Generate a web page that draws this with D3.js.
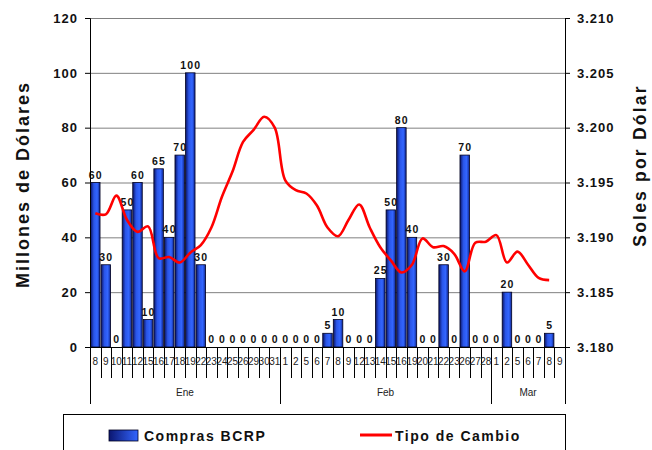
<!DOCTYPE html>
<html>
<head>
<meta charset="utf-8">
<script src="https://cdn.jsdelivr.net/npm/d3@7"></script>
<style>
  body { margin: 0; background: #fff; }
  svg { font-family: "Liberation Sans", Arial, sans-serif; }
  .narrow { font-family: "Liberation Sans Narrow", "Arial Narrow", "Liberation Sans", sans-serif; font-stretch: condensed; }
</style>
</head>
<body>
<div id="chart"></div>
<script>
// Data
const monthLabels = ["Ene", "Feb", "Mar"];
const monthDays = [
  [8, 9, 10, 11, 12, 15, 16, 17, 18, 19, 22, 23, 24, 25, 26, 29, 30, 31],
  [1, 2, 5, 6, 7, 8, 9, 12, 13, 14, 15, 16, 19, 20, 21, 22, 23, 26, 27, 28],
  [1, 2, 5, 6, 7, 8, 9]
];
const compras = [
  60, 30, 0, 50, 60, 10, 65, 40, 70, 100, 30, 0, 0, 0, 0, 0, 0, 0,
  0, 0, 0, 0, 5, 10, 0, 0, 0, 25, 50, 80, 40, 0, 0, 30, 0, 70, 0, 0,
  0, 20, 0, 0, 0, 5, null
];
const tipoCambio = [
  3.1922, 3.1921, 3.1938, 3.1916, 3.1905, 3.1910, 3.1881, 3.1882, 3.1877, 3.1886, 3.1893, 3.1909, 3.1937, 3.1960, 3.1987, 3.1998, 3.2010, 3.2000,
  3.1952, 3.1943, 3.1940, 3.1929, 3.1909, 3.1901, 3.1916, 3.1930, 3.1909, 3.1891, 3.1879, 3.1868, 3.1875, 3.1899, 3.1891, 3.1892, 3.1885, 3.1869, 3.1895, 3.1896,
  3.1902, 3.1877, 3.1887, 3.1875, 3.1863, 3.1861, null
];
const leftTicks = [0, 20, 40, 60, 80, 100, 120];
const rightTicks = [3.180, 3.185, 3.190, 3.195, 3.200, 3.205, 3.210];

// Flatten categories
const cats = [];
monthDays.forEach((days, m) => days.forEach(d => cats.push({ key: m + "-" + d, day: d, month: m })));
cats.forEach((c, i) => { c.compra = compras[i]; c.tc = tipoCambio[i]; });

const W = 652, H = 450;
const plotL = 90, plotR = 565, plotT = 18, plotB = 347;

const svg = d3.select("#chart").append("svg").attr("width", W).attr("height", H);

const defs = svg.append("defs");
const grad = defs.append("linearGradient").attr("id", "barGrad").attr("x1", "0%").attr("x2", "100%");
grad.append("stop").attr("offset", "0%").attr("stop-color", "#0a1466");
grad.append("stop").attr("offset", "35%").attr("stop-color", "#2a55e8");
grad.append("stop").attr("offset", "70%").attr("stop-color", "#3366ff");
grad.append("stop").attr("offset", "100%").attr("stop-color", "#0e2590");
const lgrad = defs.append("linearGradient").attr("id", "legGrad").attr("x1", "0%").attr("x2", "100%");
lgrad.append("stop").attr("offset", "0%").attr("stop-color", "#0b1670");
lgrad.append("stop").attr("offset", "100%").attr("stop-color", "#3366ff");

const x = d3.scaleBand().domain(cats.map(c => c.key)).range([plotL, plotR]).paddingInner(0.1).paddingOuter(0.05);
const yL = d3.scaleLinear().domain([0, 120]).range([plotB, plotT]);
const yR = d3.scaleLinear().domain([3.18, 3.21]).range([plotB, plotT]);
const step = x.step();

// Gridlines
svg.append("g").selectAll("line").data(leftTicks.filter(t => t > 0)).join("line")
  .attr("x1", plotL).attr("x2", plotR)
  .attr("y1", d => yL(d) + 0.5).attr("y2", d => yL(d) + 0.5)
  .attr("stroke", "#808080").attr("stroke-width", 1);

// Bars
svg.append("g").selectAll("rect").data(cats.filter(c => c.compra !== null && c.compra > 0)).join("rect")
  .attr("x", c => x(c.key)).attr("width", x.bandwidth())
  .attr("y", c => yL(c.compra)).attr("height", c => yL(0) - yL(c.compra))
  .attr("fill", "url(#barGrad)").attr("stroke", "#000020").attr("stroke-width", 0.8);

// Bar labels
svg.append("g").selectAll("text").data(cats.filter(c => c.compra !== null)).join("text")
  .attr("x", c => x(c.key) + x.bandwidth() / 2 + 0.5)
  .attr("y", c => yL(c.compra) - 4)
  .attr("text-anchor", "middle")
  .attr("font-size", 10.5).attr("font-weight", "bold").attr("letter-spacing", 1.2)
  .attr("fill", "#111")
  .text(c => c.compra);

// Exchange rate line
const line = d3.line()
  .defined(c => c.tc !== null)
  .x(c => x(c.key) + x.bandwidth() / 2)
  .y(c => yR(c.tc))
  .curve(d3.curveCatmullRom.alpha(0.5));
svg.append("path").datum(cats).attr("d", line)
  .attr("fill", "none").attr("stroke", "#ff0000").attr("stroke-width", 2.6).attr("stroke-linejoin", "round");

// Left axis
const axL = svg.append("g").attr("transform", `translate(${plotL},0)`)
  .call(d3.axisLeft(yL).tickValues(leftTicks).tickSize(5).tickPadding(7));
axL.select(".domain").attr("stroke", "#000");
axL.selectAll("text").attr("font-size", 13).attr("font-weight", "bold").attr("letter-spacing", 1)
  .attr("font-family", "Liberation Sans, Arial, sans-serif").attr("fill", "#111");

// Right axis
const axR = svg.append("g").attr("transform", `translate(${plotR},0)`)
  .call(d3.axisRight(yR).tickValues(rightTicks).tickFormat(d3.format(".3f")).tickSize(5).tickPadding(7));
axR.select(".domain").attr("stroke", "#000");
axR.selectAll("text").attr("font-size", 13).attr("font-weight", "bold").attr("letter-spacing", 1)
  .attr("font-family", "Liberation Sans, Arial, sans-serif").attr("fill", "#111");

// Bottom axis line
svg.append("line").attr("x1", plotL).attr("x2", plotR).attr("y1", plotB + 0.5).attr("y2", plotB + 0.5).attr("stroke", "#000");

// Category separators and labels
const catG = svg.append("g");
cats.forEach((c, i) => {
  const x0 = x(c.key) - (step - x.bandwidth()) / 2;
  const isMonthStart = i === 0 || cats[i - 1].month !== c.month;
  catG.append("line")
    .attr("x1", Math.round(x0) + 0.5).attr("x2", Math.round(x0) + 0.5)
    .attr("y1", plotB).attr("y2", isMonthStart ? 404 : 378)
    .attr("stroke", "#000").attr("stroke-width", 1);
});
catG.append("line").attr("x1", plotR + 0.5).attr("x2", plotR + 0.5).attr("y1", plotB).attr("y2", 404).attr("stroke", "#000");
catG.selectAll("text").data(cats).join("text")
  .attr("class", "narrow")
  .attr("x", c => x(c.key) + x.bandwidth() / 2)
  .attr("y", 365)
  .attr("text-anchor", "middle")
  .attr("font-size", 10).attr("fill", "#222")
  .text(c => c.day);

// Month labels
monthLabels.forEach((m, mi) => {
  const ks = cats.filter(c => c.month === mi);
  const a = x(ks[0].key), b = x(ks[ks.length - 1].key) + x.bandwidth();
  svg.append("text").attr("class", "narrow")
    .attr("x", (a + b) / 2).attr("y", 396)
    .attr("text-anchor", "middle").attr("font-size", 10).attr("fill", "#222")
    .text(m);
});

// Axis titles
svg.append("text")
  .attr("transform", `translate(29,${(plotT + plotB) / 2 + 2}) rotate(-90)`)
  .attr("text-anchor", "middle").attr("font-size", 18).attr("font-weight", "bold").attr("letter-spacing", 2)
  .attr("fill", "#111").text("Millones de Dólares");
svg.append("text")
  .attr("transform", `translate(646,${(plotT + plotB) / 2 - 17}) rotate(-90)`)
  .attr("text-anchor", "middle").attr("font-size", 17.5).attr("font-weight", "bold").attr("letter-spacing", 2.2)
  .attr("fill", "#111").text("Soles por Dólar");

// Legend
const leg = svg.append("g");
leg.append("rect").attr("x", 63.5).attr("y", 414.5).attr("width", 502).attr("height", 40)
  .attr("fill", "#fff").attr("stroke", "#000");
leg.append("rect").attr("x", 109).attr("y", 430).attr("width", 29).attr("height", 11)
  .attr("fill", "url(#legGrad)").attr("stroke", "#000020").attr("stroke-width", 0.8);
leg.append("text").attr("x", 144).attr("y", 441).attr("font-size", 14).attr("font-weight", "bold")
  .attr("letter-spacing", 1.5).attr("fill", "#111").text("Compras BCRP");
leg.append("line").attr("x1", 360).attr("x2", 392).attr("y1", 435).attr("y2", 435)
  .attr("stroke", "#ff0000").attr("stroke-width", 3);
leg.append("text").attr("x", 395).attr("y", 441).attr("font-size", 14).attr("font-weight", "bold")
  .attr("letter-spacing", 1.5).attr("fill", "#111").text("Tipo de Cambio");
</script>
</body>
</html>
